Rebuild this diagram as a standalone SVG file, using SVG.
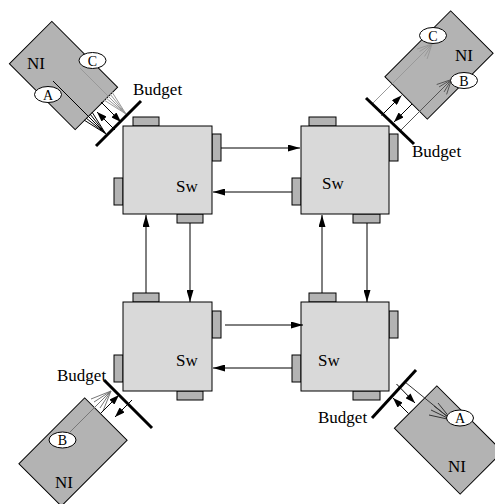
<svg xmlns="http://www.w3.org/2000/svg" width="495" height="504" viewBox="0 0 495 504">
<style>
.sw{fill:#d9d9d9;stroke:#000;stroke-width:1}
.pt{fill:#b3b3b3;stroke:#000;stroke-width:1}
.ni{fill:#b3b3b3;stroke:#000;stroke-width:1}
.bar{stroke:#000;stroke-width:3;fill:none}
.ln{stroke:#000;stroke-width:1;fill:none}
.lg{stroke:#999;stroke-width:1;fill:none}
.ld{stroke:#555;stroke-width:1;fill:none}
.ov{fill:#fff;stroke:#000;stroke-width:1}
text{font-family:"Liberation Serif","Times New Roman",serif;fill:#000}
.t{font-size:17px}
.s{font-size:17px}
.o{font-size:14px;text-anchor:middle}
</style>
<defs>
<marker id="ah" viewBox="0 0 12 7" refX="12" refY="3.5" markerWidth="12" markerHeight="7" markerUnits="userSpaceOnUse" orient="auto"><path d="M0,0 L12,3.5 L0,7 z" fill="#000"/></marker>
<marker id="sa" viewBox="0 0 10 7" refX="10" refY="3.5" markerWidth="10" markerHeight="7" markerUnits="userSpaceOnUse" orient="auto"><path d="M0,0 L10,3.5 L0,7 z" fill="#000"/></marker>
</defs>

<g id="sw1">
<rect class="pt" x="133" y="117" width="26" height="9"/>
<rect class="pt" x="212" y="134" width="9" height="27"/>
<rect class="pt" x="114" y="178" width="9" height="27"/>
<rect class="pt" x="177" y="214" width="26" height="9"/>
<rect class="sw" x="123" y="126" width="89" height="88"/>
<text class="s" x="176" y="192">Sw</text>
</g>
<g id="sw2">
<rect class="pt" x="309" y="117" width="27" height="9"/>
<rect class="pt" x="389" y="134" width="9" height="27"/>
<rect class="pt" x="292" y="178" width="9" height="27"/>
<rect class="pt" x="353" y="214" width="27" height="9"/>
<rect class="sw" x="301" y="126" width="88" height="88"/>
<text class="s" x="322" y="189">Sw</text>
</g>
<g id="sw3">
<rect class="pt" x="133" y="293" width="26" height="9"/>
<rect class="pt" x="212" y="311" width="9" height="27"/>
<rect class="pt" x="114" y="355" width="9" height="27"/>
<rect class="pt" x="177" y="391" width="26" height="9"/>
<rect class="sw" x="123" y="302" width="89" height="89"/>
<text class="s" x="176" y="366">Sw</text>
</g>
<g id="sw4">
<rect class="pt" x="309" y="293" width="27" height="9"/>
<rect class="pt" x="389" y="311" width="9" height="27"/>
<rect class="pt" x="292" y="355" width="9" height="27"/>
<rect class="pt" x="353" y="391" width="27" height="9"/>
<rect class="sw" x="301" y="302" width="88" height="89"/>
<text class="s" x="318" y="366">Sw</text>
</g>

<g id="connectors">
<line class="ln" x1="221" y1="148" x2="300" y2="148" marker-end="url(#ah)"/>
<line class="ln" x1="292" y1="192" x2="213" y2="192" marker-end="url(#ah)"/>
<line class="ln" x1="146" y1="293" x2="146" y2="215" marker-end="url(#ah)"/>
<line class="ln" x1="190" y1="223" x2="190" y2="302" marker-end="url(#ah)"/>
<line class="ln" x1="322" y1="293" x2="322" y2="215" marker-end="url(#ah)"/>
<line class="ln" x1="367" y1="223" x2="367" y2="302" marker-end="url(#ah)"/>
<line class="ln" x1="225" y1="325" x2="303" y2="325" marker-end="url(#ah)"/>
<line class="ln" x1="292" y1="368" x2="213" y2="368" marker-end="url(#ah)"/>
</g>

<g id="ni1">
<rect class="ni" x="-46.5" y="-30" width="93" height="60" transform="translate(63.5,75.5) rotate(45)"/>
<path class="lg" d="M80,68 L108,96 L126,114 M104,100 L126,114 M106,98 L126,114 M110,94 L126,114 M112,92 L126,114"/>
<path class="ln" d="M53,81 L88,116 L105.5,133.5 M84,120 L105.5,133.5 M86,118 L105.5,133.5 M90,114 L105.5,133.5 M92,112 L105.5,133.5"/>
<line class="ln" x1="115" y1="130" x2="97" y2="112" marker-end="url(#sa)"/>
<line class="ln" x1="101" y1="102" x2="121" y2="122" marker-end="url(#sa)"/>
<line class="bar" x1="96" y1="146" x2="141" y2="101"/>
<ellipse class="ov" cx="92.5" cy="60.5" rx="13.5" ry="8"/>
<text class="o" x="92.5" y="65.5">C</text>
<ellipse class="ov" cx="48" cy="94.5" rx="13.5" ry="8"/>
<text class="o" x="48" y="99.5">A</text>
<text class="t" x="27" y="69">NI</text>
<text class="t" x="133" y="95">Budget</text>
</g>

<g id="ni2">
<rect class="ni" x="-46.5" y="-30" width="93" height="60" transform="translate(439,65) rotate(-45)"/>
<path class="lg" d="M373,103 L432,44 M424.6,56.4 L432,44 M419.6,51.4 L432,44 M427.1,58.9 L432,44 M417.2,49 L432,44"/>
<path class="ld" d="M400.5,130.5 L451.5,79.5 M444.1,91.9 L451.5,79.5 M439.1,86.9 L451.5,79.5 M446.6,94.4 L451.5,79.5 M436.7,84.5 L451.5,79.5"/>
<line class="ln" x1="381.5" y1="115.5" x2="401.5" y2="95.5" marker-end="url(#sa)"/>
<line class="ln" x1="412" y1="104" x2="394" y2="122" marker-end="url(#sa)"/>
<line class="bar" x1="366" y1="98" x2="414" y2="144"/>
<ellipse class="ov" cx="433" cy="35.5" rx="13.5" ry="8"/>
<text class="o" x="433" y="40.5">C</text>
<ellipse class="ov" cx="464" cy="80.5" rx="13.5" ry="8"/>
<text class="o" x="464" y="85.5">B</text>
<text class="t" x="455" y="61">NI</text>
<text class="t" x="412" y="157">Budget</text>
</g>

<g id="ni3">
<rect class="ni" x="-46.5" y="-30" width="93" height="60" transform="translate(73,452) rotate(-45)"/>
<path class="ld" d="M70,432 L111,391 M91,399 L111,391 M94,402 L111,391 M100,408 L111,391 M103,411 L111,391" style="stroke:#777"/>
<line class="ln" x1="101" y1="413" x2="119" y2="395" marker-end="url(#sa)"/>
<line class="ln" x1="132" y1="400" x2="115" y2="417" marker-end="url(#sa)"/>
<line class="bar" x1="104" y1="380" x2="152" y2="428"/>
<ellipse class="ov" cx="62.5" cy="440" rx="13.5" ry="8"/>
<text class="o" x="62.5" y="445">B</text>
<text class="t" x="55" y="488">NI</text>
<text class="t" x="57" y="381">Budget</text>
</g>

<g id="ni4">
<rect class="ni" x="-46.5" y="-30" width="93" height="60" transform="translate(448.5,440) rotate(45)"/>
<path class="ld" d="M405,382 L451.7,420 M429,415 L451.7,420 M431,410 L451.7,420 M434,406 L451.7,420 M438,403 L451.7,420" style="stroke:#333"/>
<line class="ln" x1="396.5" y1="384" x2="415" y2="403" marker-end="url(#sa)"/>
<line class="ln" x1="408.5" y1="413.5" x2="393" y2="398" marker-end="url(#sa)"/>
<line class="bar" x1="372" y1="418" x2="416" y2="370"/>
<ellipse class="ov" cx="460" cy="418" rx="13.5" ry="8"/>
<text class="o" x="460" y="423">A</text>
<text class="t" x="448" y="472">NI</text>
<text class="t" x="318" y="423">Budget</text>
</g>
</svg>
